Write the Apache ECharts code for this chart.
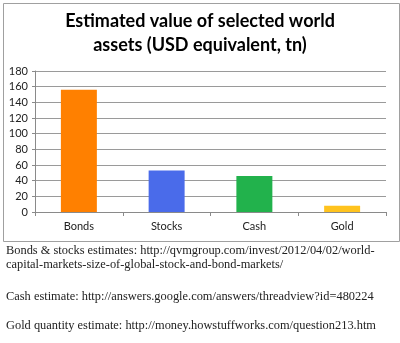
<!DOCTYPE html>
<html>
<head>
<meta charset="utf-8">
<script src="https://cdn.jsdelivr.net/npm/echarts@6/dist/echarts.min.js"></script>
<style>
  html, body { margin: 0; padding: 0; background: #fff; }
  #chart { width: 400px; height: 343px; }
</style>
</head>
<body>
<div id="chart"></div>
<script>
// Asset classes and their estimated values (USD trillion)
const categories = ['Bonds', 'Stocks', 'Cash', 'Gold'];
const values = [156, 53, 46, 8];
const barColors = ['#FF8000', '#4A6BEA', '#22B24C', '#FFC31E'];
const yTicks = [0, 180, 20]; // min, max, step

const titleLines = ['Estimated value of selected world', 'assets (USD equivalent, tn)'];
const sourceNotes = [
  'Bonds & stocks estimates: http://qvmgroup.com/invest/2012/04/02/world-',
  'capital-markets-size-of-global-stock-and-bond-markets/',
  'Cash estimate: http://answers.google.com/answers/threadview?id=480224',
  'Gold quantity estimate: http://money.howstuffworks.com/question213.htm'
];
const noteY = [252, 266, 298, 327];

const chart = echarts.init(document.getElementById('chart'), null, { renderer: 'canvas' });

const sansFont = 'Lato, "Open Sans", "Liberation Sans", sans-serif';

chart.setOption({
  animation: false,
  backgroundColor: '#fff',
  grid: { left: 35, right: 14, top: 71, bottom: 131, containLabel: false },
  xAxis: {
    type: 'category',
    data: categories,
    axisLine: { lineStyle: { color: '#8a8a8a', width: 1 } },
    axisTick: { show: true, alignWithLabel: false, length: 4, inside: false, lineStyle: { color: '#8a8a8a' } },
    axisLabel: { color: '#222', fontSize: 11, fontFamily: sansFont, margin: 9 }
  },
  yAxis: {
    type: 'value',
    min: yTicks[0], max: yTicks[1], interval: yTicks[2],
    axisLine: { show: true, lineStyle: { color: '#8a8a8a' } },
    axisTick: { show: true, length: 3, lineStyle: { color: '#8a8a8a' } },
    axisLabel: { color: '#222', fontSize: 11, fontFamily: sansFont, margin: 7 },
    splitLine: { lineStyle: { color: '#9a9a9a', width: 1 } }
  },
  series: [{
    type: 'bar',
    data: values.map((v, i) => ({ value: v, itemStyle: { color: barColors[i] } })),
    barWidth: '41%'
  }],
  graphic: [
    {
      type: 'rect', left: 1, top: 1, z: -1,
      shape: { width: 396, height: 238 },
      style: { fill: 'none', stroke: '#a0a0a0', lineWidth: 1 }
    },
    ...titleLines.map((t, i) => ({
      type: 'text', left: 'center', top: 12 + i * 24,
      style: { text: t, font: 'bold 18px ' + sansFont, fill: '#000' }
    })),
    ...sourceNotes.map((t, i) => ({
      type: 'text', left: 6, top: noteY[i] - 7,
      style: { text: t, font: '12.4px "Liberation Serif", "Times New Roman", serif', fill: '#222' }
    }))
  ]
});
</script>
</body>
</html>
